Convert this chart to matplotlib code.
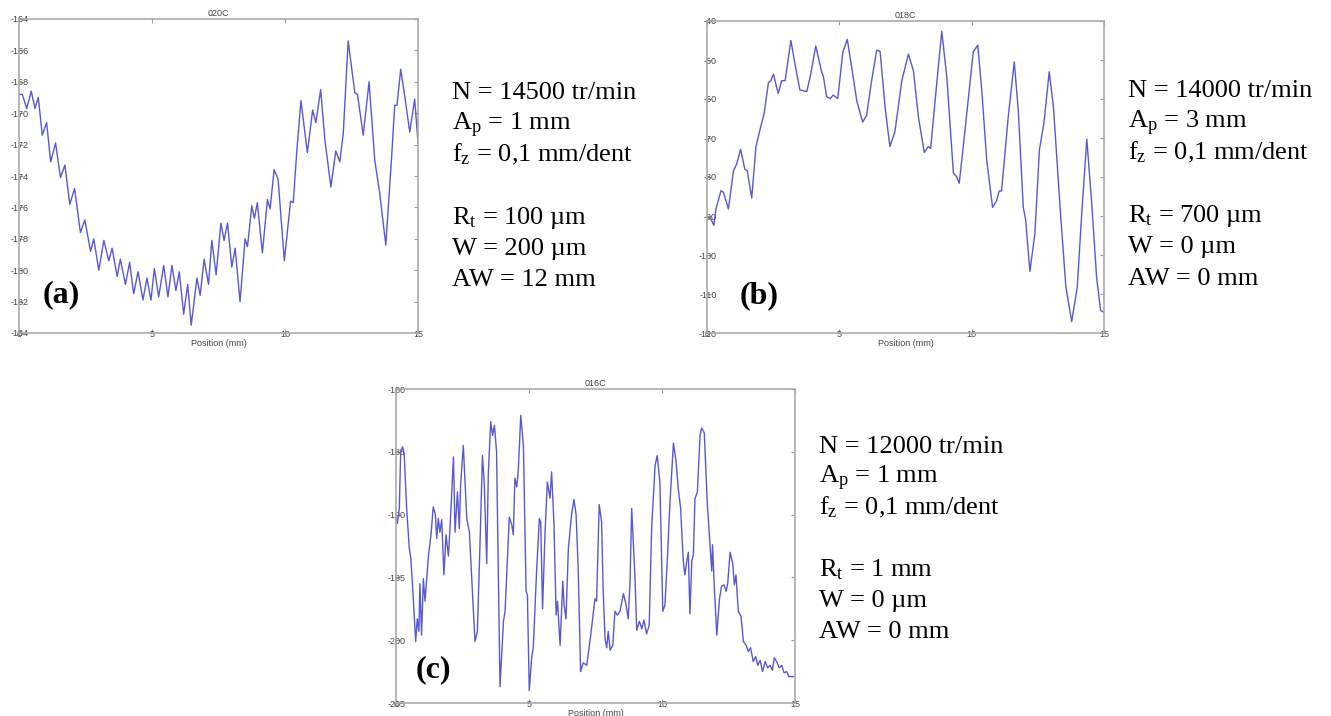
import matplotlib
matplotlib.use('Agg')
import matplotlib.pyplot as plt

plt.rcParams['font.family'] = ['Liberation Sans', 'DejaVu Sans']
plt.rcParams['axes.unicode_minus'] = False
plt.rcParams['mathtext.fontset'] = 'custom'
plt.rcParams['mathtext.rm'] = 'Liberation Serif'
plt.rcParams['mathtext.it'] = 'Liberation Serif:italic'

# profile 020C (a)
pos_a = [0.0, 0.125, 0.29, 0.46, 0.6, 0.725, 0.875, 1.04, 1.19, 1.375, 1.56, 1.725, 1.91, 2.09,
         2.31, 2.475, 2.69, 2.81, 3.0, 3.19, 3.375, 3.5, 3.69, 3.81, 4.0, 4.16, 4.31, 4.475, 4.66,
         4.81, 4.96, 5.09, 5.25, 5.44, 5.6, 5.75, 5.9, 6.025, 6.19, 6.34, 6.475, 6.69, 6.81, 6.96,
         7.125, 7.25, 7.41, 7.59, 7.71, 7.84, 8.0, 8.125, 8.31, 8.5, 8.59, 8.75, 8.85, 8.96, 9.15,
         9.34, 9.44, 9.59, 9.74, 9.975, 10.21, 10.31, 10.44, 10.6, 10.84, 11.04, 11.16, 11.34, 11.5,
         11.725, 11.91, 12.06, 12.19, 12.375, 12.625, 12.725, 12.94, 13.16, 13.375, 13.56, 13.79,
         14.0, 14.125, 14.21, 14.35, 14.5, 14.69, 14.875, 15.0]
prof_a = [-168.8, -168.8, -169.7, -168.6, -169.7, -169.0, -171.4, -170.6, -173.1, -171.9, -174.1,
          -173.3, -175.8, -174.8, -177.6, -176.8, -178.8, -178.0, -180.0, -178.1, -179.4, -178.6,
          -180.4, -179.3, -180.9, -179.5, -181.5, -180.1, -181.9, -180.5, -181.9, -179.9, -181.7,
          -179.7, -181.7, -179.7, -181.3, -180.1, -182.8, -180.9, -183.5, -180.5, -181.6, -179.3,
          -180.9, -178.1, -180.3, -177.0, -178.1, -177.0, -179.8, -178.6, -182.0, -178.0, -178.5,
          -175.9, -176.7, -175.7, -178.9, -175.5, -176.1, -173.6, -174.2, -179.4, -175.6, -175.7,
          -172.5, -169.2, -172.5, -169.8, -170.6, -168.5, -171.7, -174.7, -172.4, -173.1, -171.3,
          -165.4, -168.7, -168.8, -171.4, -168.0, -173.0, -175.1, -178.4, -173.0, -169.5, -169.5,
          -167.2, -168.9, -171.2, -169.1, -171.9]

# profile 018C (b)
pos_b = [0.0, 0.14, 0.26, 0.34, 0.53, 0.62, 0.81, 1.0, 1.12, 1.27, 1.43, 1.52, 1.69, 1.85, 2.03,
         2.16, 2.32, 2.41, 2.51, 2.69, 2.82, 2.95, 3.17, 3.32, 3.51, 3.77, 3.92, 4.11, 4.33, 4.40,
         4.52, 4.65, 4.77, 4.94, 5.13, 5.30, 5.47, 5.66, 5.88, 6.03, 6.22, 6.41, 6.54, 6.73, 6.91,
         7.10, 7.36, 7.61, 7.80, 7.99, 8.21, 8.36, 8.45, 8.68, 8.87, 9.06, 9.31, 9.43, 9.53, 9.75,
         10.06, 10.23, 10.38, 10.57, 10.79, 10.94, 11.04, 11.13, 11.38, 11.61, 11.76, 11.95, 12.04,
         12.20, 12.39, 12.56, 12.73, 12.93, 13.09, 13.34, 13.56, 13.78, 13.99, 14.15, 14.35, 14.53,
         14.72, 14.87, 14.97]
prof_b = [-90.3, -90.7, -92.4, -88.1, -83.5, -83.9, -88.2, -78.4, -76.7, -72.9, -78.0, -78.4, -85.4,
          -72.2, -67.1, -63.7, -55.8, -55.3, -53.6, -58.6, -55.3, -55.3, -45.0, -50.9, -57.7, -58.1,
          -53.6, -46.4, -53.0, -54.3, -59.4, -59.9, -59.0, -59.9, -48.1, -44.7, -52.0, -60.5, -65.9,
          -64.2, -55.3, -47.5, -47.8, -62.2, -72.2, -68.4, -55.3, -48.5, -52.8, -64.7, -73.7, -72.2,
          -72.7, -56.0, -42.6, -54.3, -79.0, -79.9, -81.6, -67.9, -47.9, -46.2, -57.6, -75.8, -87.8,
          -86.1, -83.6, -83.6, -64.7, -50.5, -62.8, -87.8, -91.0, -104.2, -94.4, -73.0, -66.2, -53.0,
          -62.0, -87.8, -108.2, -117.1, -108.2, -90.3, -70.3, -86.1, -105.7, -114.2, -114.6]

# profile 016C (c)
pos_c = [0.0, 0.05, 0.125, 0.175, 0.25, 0.31, 0.4, 0.5, 0.56, 0.65, 0.74, 0.8, 0.86, 0.9, 0.96,
         1.03, 1.09, 1.22, 1.32, 1.4, 1.48, 1.53, 1.59, 1.65, 1.72, 1.80, 1.88, 1.97, 2.03, 2.16,
         2.22, 2.31, 2.38, 2.43, 2.53, 2.66, 2.76, 2.84, 2.97, 3.06, 3.16, 3.25, 3.32, 3.41, 3.47,
         3.56, 3.63, 3.70, 3.78, 3.91, 4.04, 4.10, 4.19, 4.26, 4.35, 4.41, 4.47, 4.54, 4.60, 4.69,
         4.79, 4.89, 4.94, 5.01, 5.10, 5.16, 5.29, 5.39, 5.44, 5.51, 5.60, 5.69, 5.79, 5.85, 5.94,
         6.02, 6.07, 6.17, 6.27, 6.32, 6.39, 6.48, 6.60, 6.69, 6.77, 6.85, 6.94, 7.04, 7.17, 7.32,
         7.48, 7.54, 7.64, 7.73, 7.79, 7.86, 7.92, 7.98, 8.05, 8.15, 8.23, 8.32, 8.42, 8.55, 8.65,
         8.73, 8.80, 8.86, 8.98, 9.05, 9.15, 9.24, 9.32, 9.42, 9.52, 9.61, 9.74, 9.82, 9.92, 10.03,
         10.11, 10.21, 10.30, 10.43, 10.53, 10.61, 10.70, 10.80, 10.86, 10.93, 10.99, 11.05, 11.12,
         11.18, 11.24, 11.33, 11.43, 11.49, 11.59, 11.70, 11.80, 11.87, 11.90, 11.97, 12.06, 12.16,
         12.24, 12.33, 12.41, 12.47, 12.56, 12.66, 12.72, 12.78, 12.87, 12.97, 13.06, 13.16, 13.25,
         13.33, 13.43, 13.52, 13.60, 13.69, 13.78, 13.88, 13.97, 14.06, 14.15, 14.22, 14.31, 14.41,
         14.50, 14.59, 14.69, 14.77, 15.0]
prof_c = [-190.3, -190.7, -189.5, -185.0, -184.6, -185.3, -189.5, -192.7, -193.5, -196.7, -200.1,
          -198.3, -199.3, -195.5, -199.6, -195.1, -196.9, -193.3, -191.5, -189.4, -190.0, -191.9,
          -190.3, -191.4, -190.4, -194.8, -191.6, -193.3, -191.1, -185.4, -191.4, -188.2, -191.1,
          -187.6, -184.5, -190.3, -191.4, -194.8, -200.1, -199.3, -192.2, -185.3, -187.6, -193.9,
          -186.8, -182.6, -183.7, -182.9, -185.0, -203.7, -198.5, -197.7, -193.5, -190.2, -190.8,
          -191.6, -187.1, -187.8, -186.4, -182.1, -184.5, -196.1, -196.4, -204.0, -201.4, -200.6,
          -194.3, -190.3, -190.6, -197.5, -191.6, -187.4, -188.7, -186.6, -190.8, -198.0, -196.9,
          -200.4, -195.3, -197.2, -198.3, -192.7, -190.0, -188.8, -190.0, -194.3, -202.5, -201.8,
          -202.0, -199.6, -196.7, -196.9, -189.2, -190.6, -196.1, -199.9, -200.6, -199.3, -200.8,
          -200.4, -197.7, -198.0, -197.7, -196.3, -197.2, -198.3, -195.3, -189.5, -194.8, -199.2,
          -198.5, -199.1, -198.4, -199.5, -198.8, -191.1, -186.1, -185.3, -187.4, -197.7, -197.2,
          -193.2, -189.0, -184.3, -185.8, -187.9, -189.5, -193.7, -194.8, -193.7, -193.0, -197.9,
          -193.7, -193.2, -188.7, -188.2, -183.7, -183.1, -183.5, -189.0, -192.2, -194.5, -192.4,
          -195.9, -199.6, -196.7, -195.7, -195.6, -196.1, -195.5, -193.0, -193.9, -195.6, -194.8,
          -197.7, -198.1, -200.1, -200.4, -200.9, -200.6, -201.7, -201.3, -202.0, -201.6, -202.5,
          -201.7, -202.2, -202.0, -202.4, -201.4, -201.7, -202.2, -202.0, -202.6, -202.5, -202.9,
          -202.9]

xticks = [0, 5, 10, 15]
yticks_a = list(range(-184, -163, 2))
yticks_b = list(range(-120, -39, 10))
yticks_c = list(range(-205, -179, 5))

titles = ['020C', '018C', '016C']
labels = ['(a)', '(b)', '(c)']

params_a = ['N = 14500 tr/min', r'A$_\mathrm{p}$ = 1 mm', r'f$_\mathrm{z}$ = 0,1 mm/dent', '',
            r'R$_\mathrm{t}$ = 100 µm', 'W = 200 µm', 'AW = 12 mm']
params_b = ['N = 14000 tr/min', r'A$_\mathrm{p}$ = 3 mm', r'f$_\mathrm{z}$ = 0,1 mm/dent', '',
            r'R$_\mathrm{t}$ = 700 µm', 'W = 0 µm', 'AW = 0 mm']
params_c = ['N = 12000 tr/min', r'A$_\mathrm{p}$ = 1 mm', r'f$_\mathrm{z}$ = 0,1 mm/dent', '',
            r'R$_\mathrm{t}$ = 1 mm', 'W = 0 µm', 'AW = 0 mm']

W, H = 1331, 716
fig = plt.figure(figsize=(W / 100, H / 100), dpi=100)
line_col = '#5858d2'
txt_col = '#444444'


def px_rect(x0, y0, x1, y1):
    return [x0 / W, 1 - y1 / H, (x1 - x0) / W, (y1 - y0) / H]


def panel(rect, x, y, yt, title, label, lab_pos):
    ax = fig.add_axes(rect)
    ax.plot(x, y, color=line_col, lw=1.0)
    ax.set_xlim(0, 15)
    ax.set_ylim(yt[0], yt[-1])
    ax.set_xticks(xticks)
    ax.set_yticks(yt)
    ax.tick_params(direction='in', top=True, right=True, length=3, width=0.8,
                   color='#999999', labelcolor=txt_col, labelsize=6.5)
    ax.tick_params(axis='y', pad=-7)
    ax.tick_params(axis='x', pad=-2)
    for s in ax.spines.values():
        s.set_color('#aaaaaa')
        s.set_linewidth(1.2)
    ax.set_title(title, fontsize=6.5, color=txt_col, pad=2)
    ax.set_xlabel('Position (mm)', fontsize=6.5, color=txt_col, labelpad=0)
    ax.text(lab_pos[0], lab_pos[1], label, transform=ax.transAxes, fontsize=23,
            fontweight='bold', family='Liberation Serif', ha='left', va='center')
    return ax


def params(lines, x0, y0, step):
    for i, s in enumerate(lines):
        if s:
            fig.text(x0 / W, 1 - (y0 + i * step) / H, s, fontsize=19,
                     family='Liberation Serif', ha='left', va='baseline')


panel(px_rect(19, 19, 418, 333), pos_a, prof_a, yticks_a, titles[0], labels[0], (0.058, 0.121))
panel(px_rect(707, 21, 1104, 333), pos_b, prof_b, yticks_b, titles[1], labels[1], (0.083, 0.121))
panel(px_rect(396, 389, 795, 703), pos_c, prof_c, yticks_c, titles[2], labels[2], (0.048, 0.105))

params(params_a, 452, 99, 31.2)
params(params_b, 1128, 97, 31.3)
params(params_c, 819, 453, 30.8)

fig.savefig('out.png', dpi=100, facecolor='white')
